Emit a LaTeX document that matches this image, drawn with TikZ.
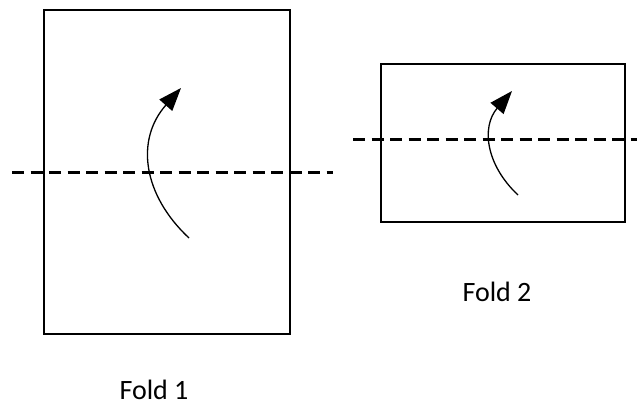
\documentclass[tikz,border=0pt]{standalone}
\usepackage{fontspec}
\setmainfont{Carlito}
\usetikzlibrary{arrows.meta}
\begin{document}
\begin{tikzpicture}[x=1pt,y=-1pt,
  sheet/.style={draw=black,line width=2.8pt,minimum width=#1,inner sep=0pt,outer sep=0pt},
  foldline/.style={line width=2.5pt,dash pattern=on 12pt off 6.5pt},
  turn/.style={line width=1.3pt,-{Triangle[length=23pt,width=17pt]}},
  caption/.style={anchor=base,inner sep=0pt,font=\fontsize{28}{30}\selectfont}]
\useasboundingbox (0,0) rectangle (637,405);
% sheets
\node[sheet=246pt,minimum height=324pt] (s1) at (167,172) {};
\node[sheet=244pt,minimum height=158pt] (s2) at (503,143) {};
% fold lines
\coordinate (l1a) at (12,172.5);
\coordinate (l1b) at (333,172.5);
\coordinate (l2a) at (353,139.5);
\coordinate (l2b) at (637,139.5);
\draw[foldline] (l1a) -- (l1b);
\draw[foldline] (l2a) -- (l2b);
% turning arrows
\coordinate (a1s) at (189,238);
\coordinate (a1e) at (181,88);
\coordinate (a2s) at (518,195);
\coordinate (a2e) at (512,91);
\draw[turn] (a1s) .. controls (143,195) and (135,140) .. (a1e);
\draw[turn] (a2s) .. controls (486,165) and (481,127) .. (a2e);
% captions
\node[caption] (c1) at (154,399) {Fold 1};
\node[caption] (c2) at (497,301) {Fold 2};
\end{tikzpicture}
\end{document}
